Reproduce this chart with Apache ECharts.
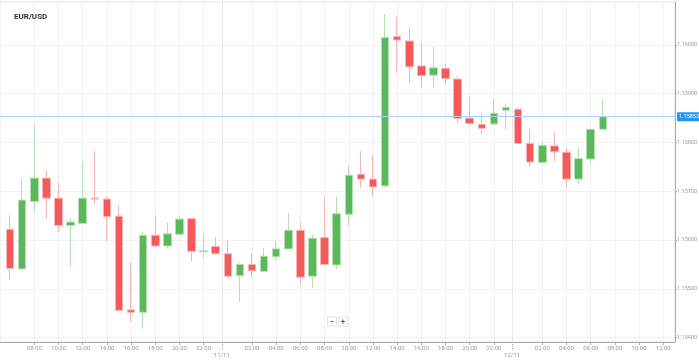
<!DOCTYPE html>
<html><head><meta charset="utf-8">
<script src="https://cdn.jsdelivr.net/npm/echarts@6/dist/echarts.min.js"></script>
<style>html,body{margin:0;padding:0;background:#fff}#c{width:699px;height:360px}</style>
</head><body><div id="c"></div>
<script>
const chartTitle = 'EUR/USD';
const candleTimes = [
 '10/11 06:00','10/11 07:00','10/11 08:00','10/11 09:00','10/11 10:00','10/11 11:00','10/11 12:00','10/11 13:00','10/11 14:00','10/11 15:00',
 '10/11 16:00','10/11 17:00','10/11 18:00','10/11 19:00','10/11 20:00','10/11 21:00','10/11 22:00','10/11 23:00',
 '11/11 00:00','11/11 01:00','11/11 02:00','11/11 03:00','11/11 04:00','11/11 05:00','11/11 06:00','11/11 07:00','11/11 08:00','11/11 09:00',
 '11/11 10:00','11/11 11:00','11/11 12:00','11/11 13:00','11/11 14:00','11/11 15:00','11/11 16:00','11/11 17:00','11/11 18:00','11/11 19:00',
 '11/11 20:00','11/11 21:00','11/11 22:00','11/11 23:00',
 '12/11 00:00','12/11 01:00','12/11 02:00','12/11 03:00','12/11 04:00','12/11 05:00','12/11 06:00','12/11 07:00'
];
const opens = [
 1.15622,1.15541,1.15679,1.15727,1.15686,1.15630,1.15634,1.15686,1.15684,1.15649,
 1.15457,1.15452,1.15610,1.15588,1.15612,1.15644,1.15576,1.15587,
 1.15572,1.15527,1.15550,1.15536,1.15566,1.15582,1.15620,1.15526,1.15605,1.15549,
 1.15653,1.15735,1.15725,1.15711,1.16017,1.16008,1.15957,1.15938,1.15952,1.15930,
 1.15850,1.15837,1.15838,1.15866,
 1.15868,1.15798,1.15759,1.15793,1.15780,1.15725,1.15766,1.15827
];
const closes = [
 1.15542,1.15682,1.15727,1.15686,1.15630,1.15637,1.15686,1.15684,1.15648,1.15456,
 1.15452,1.15610,1.15588,1.15613,1.15643,1.15577,1.15578,1.15572,
 1.15526,1.15550,1.15537,1.15567,1.15582,1.15620,1.15524,1.15604,1.15550,1.15654,
 1.15733,1.15725,1.15709,1.16015,1.16010,1.15955,1.15937,1.15953,1.15931,1.15849,
 1.15839,1.15829,1.15860,1.15872,
 1.15798,1.15760,1.15794,1.15781,1.15725,1.15767,1.15827,1.15853
];
const lows = [
 1.15518,1.15540,1.15656,1.15645,1.15617,1.15546,1.15633,1.15674,1.15597,1.15455,
 1.15433,1.15418,1.15586,1.15584,1.15610,1.15556,1.15564,1.15570,
 1.15523,1.15474,1.15523,1.15535,1.15559,1.15582,1.15507,1.15502,1.15549,1.15541,
 1.15630,1.15707,1.15689,1.15709,1.15943,1.15921,1.15913,1.15914,1.15919,1.15839,
 1.15838,1.15817,1.15836,1.15826,
 1.15797,1.15750,1.15758,1.15762,1.15706,1.15716,1.15757,1.15827
];
const highs = [
 1.15651,1.15725,1.15836,1.15744,1.15718,1.15645,1.15761,1.15783,1.15689,1.15672,
 1.15553,1.15617,1.15651,1.15636,1.15649,1.15645,1.15612,1.15607,
 1.15599,1.15553,1.15574,1.15584,1.15597,1.15656,1.15636,1.15611,1.15689,1.15689,
 1.15752,1.15783,1.15774,1.16063,1.16057,1.16037,1.16005,1.15996,1.15961,1.15935,
 1.15893,1.15860,1.15889,1.15880,
 1.15872,1.15827,1.15803,1.15820,1.15789,1.15791,1.15828,1.15889
];
const timeTickLabels = [
 '10/11 08:00','10/11 10:00','10/11 12:00','10/11 14:00','10/11 16:00','10/11 18:00','10/11 20:00','10/11 22:00',
 '11/11 02:00','11/11 04:00','11/11 06:00','11/11 08:00','11/11 10:00','11/11 12:00','11/11 14:00','11/11 16:00','11/11 18:00','11/11 20:00','11/11 22:00',
 '12/11 02:00','12/11 04:00','12/11 06:00','12/11 08:00','12/11 10:00','12/11 12:00'
];
const dateTickLabels = ['11/11','12/11'];
const priceTicks = [1.15400,1.15500,1.15600,1.15700,1.15800,1.15900,1.16000];
const lastPrice = 1.15853;

function hourOf(s) {
  const parts = s.split(' ');
  const day = parseInt(parts[0].split('/')[0], 10) - 10;
  return day * 24 + parseInt(parts[1], 10);
}
const timeTickHours = timeTickLabels.map(hourOf);
const hourLabel = {};
timeTickLabels.forEach(function (s) { hourLabel[hourOf(s)] = s.split(' ')[1]; });
// day separator sits between the 23:00 and 00:00 candles
const dateTickPos = dateTickLabels.map(function (d) { return hourOf(d + ' 00:00') - 0.5; });
const dateLabel = {};
dateTickLabels.forEach(function (d, i) { dateLabel[dateTickPos[i]] = d; });

const candleData = candleTimes.map(function (t, i) {
  return [hourOf(t), opens[i], closes[i], lows[i], highs[i]];
});

const X_MIN = 5.164, X_MAX = 60.97;
const FONT = 'Roboto';

const chart = echarts.init(document.getElementById('c'), null, { renderer: 'canvas' });
chart.setOption({
  animation: false,
  backgroundColor: '#fff',
  title: {
    text: chartTitle, left: 9, top: 8,
    textStyle: { fontSize: 8, fontWeight: 'bold', color: '#333', fontFamily: FONT }
  },
  grid: {
    left: 0, right: 24, top: 2, bottom: 18,
    containLabel: false, outerBoundsMode: 'none',
    show: true, borderColor: '#e3e3e3', borderWidth: 1
  },
  xAxis: [{
    type: 'value', min: X_MIN, max: X_MAX,
    axisLine: { show: true, lineStyle: { color: '#aaa', width: 1 } },
    axisTick: { show: true, customValues: timeTickHours, length: 3, lineStyle: { color: '#aaa' } },
    axisLabel: {
      customValues: timeTickHours, margin: 3, fontSize: 6, color: '#999', fontFamily: FONT,
      formatter: function (v) { return hourLabel[Math.round(v)] || ''; }
    },
    splitLine: { show: true, lineStyle: { color: '#f1f1f1', width: 1 } }
  }, {
    type: 'value', min: X_MIN, max: X_MAX, position: 'bottom',
    axisLine: { show: false },
    axisTick: { show: true, customValues: dateTickPos, length: 7, lineStyle: { color: '#aaa', type: [1, 1] } },
    axisLabel: {
      customValues: dateTickPos, margin: 10, fontSize: 6, color: '#999', fontFamily: FONT,
      formatter: function (v) { return dateLabel[v] || ''; }
    },
    splitLine: { show: true, lineStyle: { color: '#e8e8e8', width: 1 } }
  }],
  yAxis: {
    type: 'value', position: 'right', min: 1.153912, max: 1.160879, scale: true,
    axisLine: { show: true, lineStyle: { color: '#aaa', width: 1 } },
    axisTick: { show: true, customValues: priceTicks, length: 2, lineStyle: { color: '#aaa' } },
    axisLabel: {
      customValues: priceTicks, margin: 2, fontSize: 5.5, color: '#999', fontFamily: FONT,
      formatter: function (v) { return v.toFixed(5); }
    },
    splitLine: { show: true, lineStyle: { color: '#f1f1f1', width: 1 } }
  },
  series: [{
    type: 'candlestick',
    xAxisIndex: 0,
    data: candleData,
    encode: { x: 0, y: [1, 2, 3, 4] },
    barWidth: 8,
    itemStyle: {
      color: '#5cb85c', color0: '#f55a5a',
      borderColor: '#b4dfb0', borderColor0: '#f8b4b4',
      borderColorDoji: '#b4dfb0',
      borderWidth: 1
    }
  }, {
    type: 'line',
    xAxisIndex: 0,
    data: [[X_MAX, lastPrice]],
    symbol: 'none', silent: true,
    lineStyle: { opacity: 0 },
    markLine: {
      silent: true, symbol: ['none', 'none'], animation: false, precision: 5,
      data: [{ yAxis: lastPrice }],
      lineStyle: { color: '#a6d4f7', type: 'solid', width: 1 },
      label: {
        show: true, position: 'end', distance: 2,
        formatter: function () { return lastPrice.toFixed(5); },
        backgroundColor: '#2196f3', color: '#fff', fontSize: 5.5, fontFamily: FONT,
        padding: [2, 2, 1, 2], borderRadius: 1
      }
    }
  }],
  graphic: [
    { type: 'rect', shape: { x: 327.5, y: 317, width: 9, height: 9 }, style: { fill: '#fff', stroke: '#e2e2e2', lineWidth: 1 } },
    { type: 'rect', shape: { x: 338.5, y: 317, width: 9, height: 9 }, style: { fill: '#fff', stroke: '#e2e2e2', lineWidth: 1 } },
    { type: 'text', x: 332, y: 321.5, style: { text: '−', fill: '#555', fontSize: 8, fontWeight: 'bold', fontFamily: FONT, align: 'center', verticalAlign: 'middle' } },
    { type: 'text', x: 343, y: 321.5, style: { text: '+', fill: '#555', fontSize: 8, fontWeight: 'bold', fontFamily: FONT, align: 'center', verticalAlign: 'middle' } }
  ]
});
</script></body></html>
